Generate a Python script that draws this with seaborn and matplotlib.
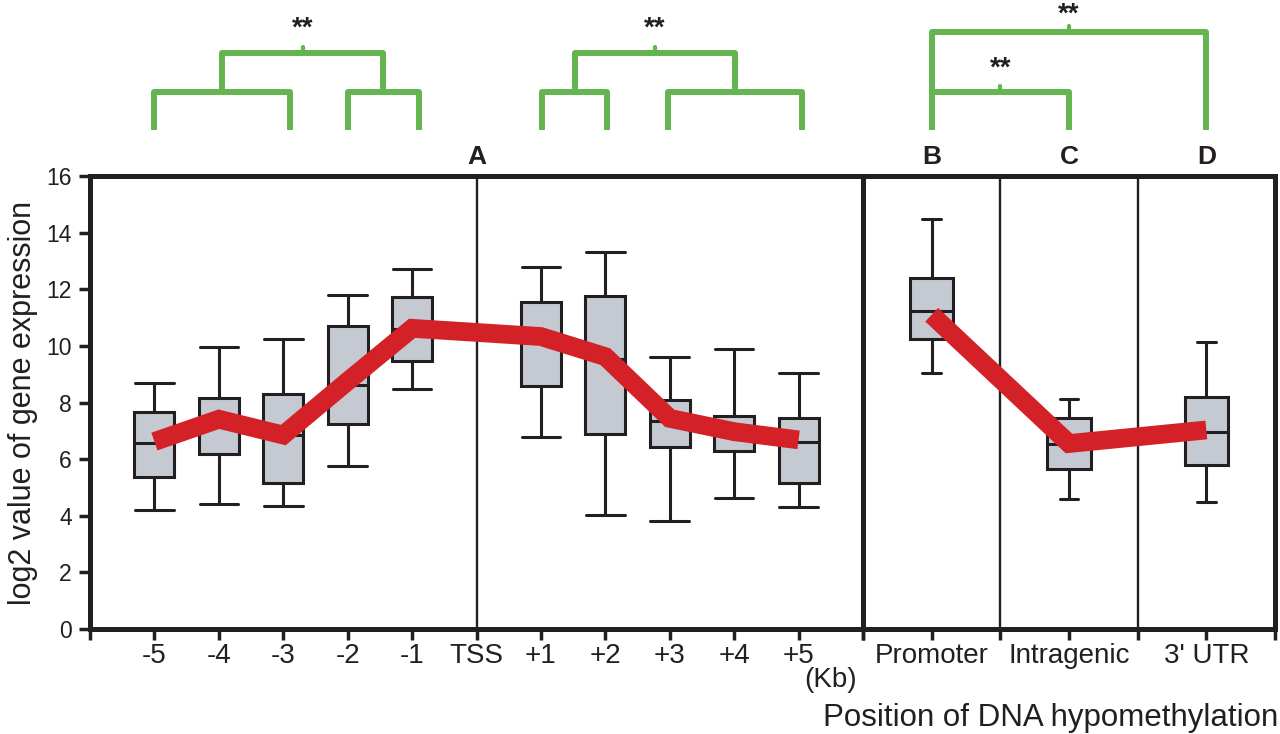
import matplotlib
matplotlib.use("Agg")
import matplotlib.pyplot as plt
import seaborn as sns
import numpy as np
import pandas as pd

# ---- data (five-number summaries) ----
tss_pos = [-5, -4, -3, -2, -1, 1, 2, 3, 4, 5]
tss_labels = ['-5', '-4', '-3', '-2', '-1', 'TSS', '+1', '+2', '+3', '+4', '+5']
tss_low = [4.20, 4.42, 4.34, 5.76, 8.47, 6.79, 4.03, 3.81, 4.62, 4.32]
tss_q1 = [5.36, 6.18, 5.14, 7.24, 9.47, 8.58, 6.89, 6.42, 6.30, 5.17]
tss_med = [6.58, 7.40, 6.85, 8.62, 10.60, 10.30, 9.53, 7.35, 6.95, 6.62]
tss_q3 = [7.68, 8.17, 8.29, 10.71, 11.74, 11.55, 11.76, 8.09, 7.52, 7.46]
tss_high = [8.70, 9.95, 10.23, 11.79, 12.73, 12.79, 13.33, 9.62, 9.88, 9.05]
tss_mean = [6.62, 7.41, 6.85, 8.75, 10.62, 10.33, 9.62, 7.44, 6.97, 6.68]

region_labels = ['Promoter', 'Intragenic', "3' UTR"]
region_pos = [1, 3, 5]
region_low = [9.03, 4.58, 4.50]
region_q1 = [10.24, 5.65, 5.79]
region_med = [11.24, 6.55, 6.97]
region_q3 = [12.41, 7.44, 8.18]
region_high = [14.47, 8.11, 10.13]
region_mean = [11.10, 6.55, 7.03]

# dendrogram leaves (x in each panel's units)
dendro_left1 = [-5, -2.9, -2, -0.9]
dendro_left2 = [1.02, 2.03, 2.97, 5.05]


def long_table(pos, lo, q1, med, q3, hi):
    rows = []
    for p, a, b, c, d, e in zip(pos, lo, q1, med, q3, hi):
        for v in (a, b, c, d, e):
            rows.append({'pos': p, 'value': v})
    return pd.DataFrame(rows)


df_tss = long_table(tss_pos, tss_low, tss_q1, tss_med, tss_q3, tss_high)
df_reg = long_table(region_pos, region_low, region_q1, region_med, region_q3, region_high)

sns.set_theme(style="white")
plt.rcParams['font.family'] = ['Liberation Sans', 'DejaVu Sans']

ink = '#231f20'
box_fill = '#c5c9d1'
red = '#d42027'
green = '#64b450'
spine_w = 3.6

fig = plt.figure(figsize=(12.8, 7.34), dpi=100)
ax1 = fig.add_axes([90 / 1280, 105 / 734, 773 / 1280, 453 / 734])
ax2 = fig.add_axes([863 / 1280, 105 / 734, 412 / 1280, 453 / 734])

sns.boxplot(data=df_tss, x='pos', y='value', native_scale=True, ax=ax1,
            color=box_fill, saturation=1, linecolor=ink, linewidth=2.2,
            width=0.62, whis=(0, 100), capwidths=0.6)
sns.boxplot(data=df_reg, x='pos', y='value', native_scale=True, ax=ax2,
            color=box_fill, saturation=1, linecolor=ink, linewidth=2.2,
            width=0.315, whis=(0, 100), capwidths=0.27)

sns.lineplot(x=tss_pos, y=tss_mean, ax=ax1, color=red, linewidth=13.5,
             solid_capstyle='butt', solid_joinstyle='miter', zorder=5)
sns.lineplot(x=region_pos, y=region_mean, ax=ax2, color=red, linewidth=13.5,
             solid_capstyle='butt', solid_joinstyle='miter', zorder=5)

ax1.axvline(0, color=ink, lw=1.7, zorder=1)
ax2.axvline(2, color=ink, lw=1.7, zorder=1)
ax2.axvline(4, color=ink, lw=1.7, zorder=1)

for ax in (ax1, ax2):
    ax.set_ylim(0, 16)
    ax.set_xlabel('')
    ax.set_ylabel('')
    for s in ax.spines.values():
        s.set_visible(True)
        s.set_linewidth(spine_w)
        s.set_color(ink)
    ax.tick_params(axis='x', direction='out', length=8, width=2.5, color=ink,
                   bottom=True, labelsize=20, labelcolor=ink, pad=2)

ax1.set_xlim(-6, 6)
ax1.set_xticks(range(-6, 7))
ax1.set_xticklabels([''] + tss_labels + [''])
ax1.set_yticks(range(0, 17, 2))
ax1.tick_params(axis='y', direction='out', length=8, width=2.5, color=ink,
                left=True, labelsize=16.5, labelcolor=ink, pad=5)
ax1.set_ylabel('log2 value of gene expression', fontsize=22, color=ink, labelpad=6)

ax2.set_xlim(0, 6)
ax2.set_xticks(range(0, 7))
ax2.set_xticklabels(['', region_labels[0], '', region_labels[1], '', region_labels[2], ''])
ax2.set_yticks([])

# panel letters
ax1.text(0, 16.67, 'A', ha='center', va='center', fontsize=19, fontweight='bold', color=ink)
for x, letter in zip(region_pos, 'BCD'):
    ax2.text(x, 16.67, letter, ha='center', va='center', fontsize=19,
             fontweight='bold', color=ink)

ax1.annotate('(Kb)', xy=(5.5, -0.113), xycoords=('data', 'axes fraction'),
             ha='center', va='center', fontsize=20, color=ink, annotation_clip=False)
fig.text(0.999, 0.022, 'Position of DNA hypomethylation', ha='right', va='center',
         fontsize=22.5, color=ink)

# significance dendrograms
gkw = dict(color=green, lw=4.3, clip_on=False, solid_capstyle='projecting')
y_leaf, y_inner, y_top = 17.73, 18.97, 20.35
star_kw = dict(ha='center', fontsize=20, fontweight='bold', color=ink)


def dendro(ax, leaves):
    a, b, c, d = leaves
    m1, m2 = (a + b) / 2, (c + d) / 2
    mid = (m1 + m2) / 2
    ax.plot([a, a, b, b], [y_leaf, y_inner, y_inner, y_leaf], **gkw)
    ax.plot([c, c, d, d], [y_leaf, y_inner, y_inner, y_leaf], **gkw)
    ax.plot([m1, m1, m2, m2], [y_inner, y_top, y_top, y_inner], **gkw)
    ax.plot([mid, mid], [y_top, y_top + 0.2], color=green, lw=3, clip_on=False)
    ax.text(mid, 21.2, '**', va='center', **star_kw)


dendro(ax1, dendro_left1)
dendro(ax1, dendro_left2)

p, i, u = region_pos
ax2.plot([p, p, u, u], [y_leaf, 21.09, 21.09, y_leaf], **gkw)
ax2.plot([p, i, i], [y_inner, y_inner, y_leaf], **gkw)
ax2.plot([(p + u) / 2] * 2, [21.09, 21.3], color=green, lw=3, clip_on=False)
ax2.plot([(p + i) / 2] * 2, [y_inner, y_inner + 0.2], color=green, lw=3, clip_on=False)
ax2.text((p + u) / 2, 22.17, '**', va='top', **star_kw)
ax2.text((p + i) / 2, 19.8, '**', va='center', **star_kw)

fig.savefig('out.png', dpi=100)
